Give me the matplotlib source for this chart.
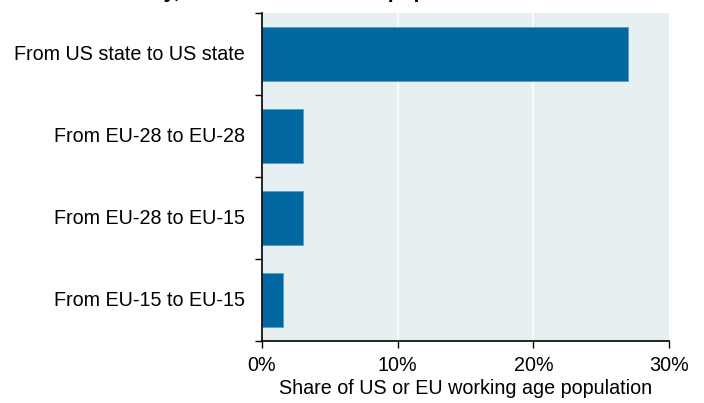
import matplotlib
matplotlib.use("Agg")
import matplotlib.pyplot as plt

plt.rcParams["font.family"] = ["Liberation Sans", "DejaVu Sans"]

# data, top to bottom
categories = ["From US state to US state", "From EU-28 to EU-28",
              "From EU-28 to EU-15", "From EU-15 to EU-15"]
shares = [27.0, 3.0, 3.0, 1.55]
xticks = [0, 10, 20, 30]
xtick_labels = ["0%", "10%", "20%", "30%"]

BAR = "#0067A0"
BG = "#E6EFF2"
FS = 14.2

fig = plt.figure(figsize=(7.04, 4.03), dpi=100)
ax = fig.add_axes([262 / 704, 1 - 341 / 403, 407 / 704, 328 / 403])

ypos = list(range(len(categories)))[::-1]
ax.barh(ypos, shares, height=0.66, color=BAR, edgecolor="#5B9BC4", linewidth=0.6, zorder=3)

ax.set_facecolor(BG)
ax.set_xlim(0, 30)
ax.set_ylim(-0.5, len(categories) - 0.5)
ax.set_xticks(xticks)
ax.set_xticklabels(xtick_labels, fontsize=FS)
for x in xticks[1:-1]:
    ax.axvline(x, color="white", lw=1.2, zorder=1)

# category labels centred on bars, ticks at boundaries
ax.set_yticks([y - 0.5 for y in range(len(categories) + 1)])
ax.set_yticklabels([])
for y, lab in zip(ypos, categories):
    ax.annotate(lab, xy=(0, y), xycoords=("axes fraction", "data"),
                xytext=(-17, 0), textcoords="offset pixels",
                ha="right", va="center", fontsize=FS)

ax.tick_params(axis="y", length=5, width=1, direction="out")
ax.tick_params(axis="x", length=5, width=1, direction="out", pad=6)
for s in ["top", "right"]:
    ax.spines[s].set_visible(False)
for s in ["left", "bottom"]:
    ax.spines[s].set_linewidth(1.2)
    ax.spines[s].set_zorder(4)

ax.set_xlabel("Share of US or EU working age population", fontsize=FS, labelpad=3)

# title, cut off by the top edge in the source image
fig.text(0.025, 1.006, "Labour mobility, cumulative share of population", fontsize=15,
         fontweight="bold", va="baseline", ha="left")

fig.savefig("out.png", dpi=100)
